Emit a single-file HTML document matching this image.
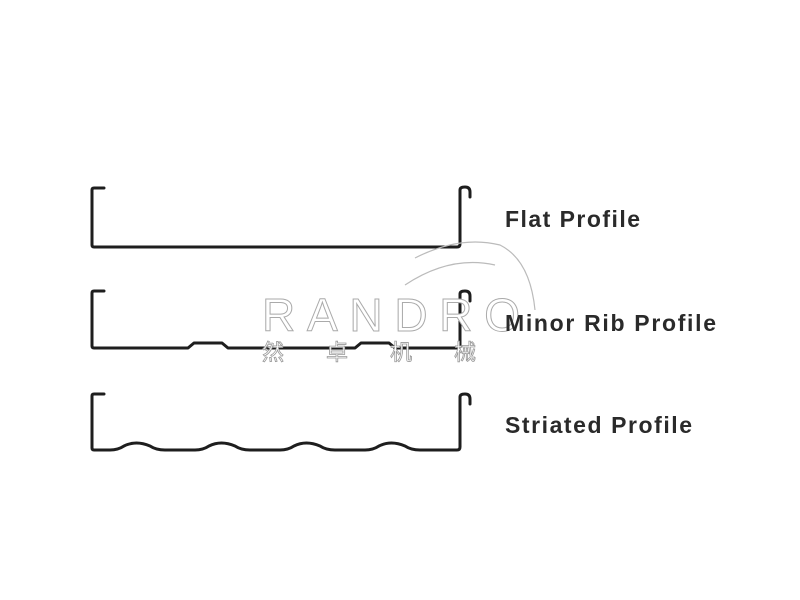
<!DOCTYPE html>
<html><head><meta charset="utf-8"><style>
body{margin:0;background:#fff;}
svg{display:block}
text{font-family:"Liberation Sans",sans-serif;font-size:23px;fill:#2a2a2a}
</style></head><body>
<svg width="800" height="600" viewBox="0 0 800 600">
<g fill="none" stroke="#1e1e1e" stroke-width="3" stroke-linejoin="round" stroke-linecap="round">
<path d="M104 188 H94 Q92 188 92 190 V245 Q92 247 94 247 H457 Q460 247 460 244 V190 Q460 187 465 187 Q470 187 470 192 V197"/>
<path d="M104 291 H94 Q92 291 92 293 V346 Q92 348 94 348 H188 L194 343 H222 L228 348 H355 L361 343 H389 L395 348 H457 Q460 348 460 345 V294 Q460 291 465 291 Q470 291 470 296 V301"/>
<path d="M104 394 H94 Q92 394 92 396 V448 Q92 450 94 450 H110 Q118 450 124 446 Q136 440 150 446 Q156 450 165 450 H195 Q203 450 209 446 Q221 440 235 446 Q241 450 250 450 H280 Q288 450 294 446 Q306 440 320 446 Q326 450 335 450 H365 Q373 450 379 446 Q391 440 405 446 Q411 450 420 450 H457 Q460 450 460 447 V397 Q460 394 465 394 Q470 394 470 399 V404"/>
</g>
<g fill="none" stroke="#bbb" stroke-width="1.2">
<path d="M415 258 Q460 235 500 245 Q530 260 535 310"/>
<path d="M405 285 Q450 255 495 265"/>
</g>
<text x="262" y="331" textLength="258" style="font-size:46px;fill:#fff;stroke:#aaa;stroke-width:1">RANDRO</text>
<text x="262" y="360" style="font-family:'Noto Sans CJK SC',sans-serif;font-size:22px;fill:#fff;stroke:#999;stroke-width:0.8;letter-spacing:42px">然卓机械</text>
<text x="505" y="227" textLength="135" style="font-weight:600">Flat Profile</text>
<text x="505" y="331" textLength="211" style="font-weight:600">Minor Rib Profile</text>
<text x="505" y="433" textLength="187" style="font-weight:600">Striated Profile</text>
</svg>
</body></html>
